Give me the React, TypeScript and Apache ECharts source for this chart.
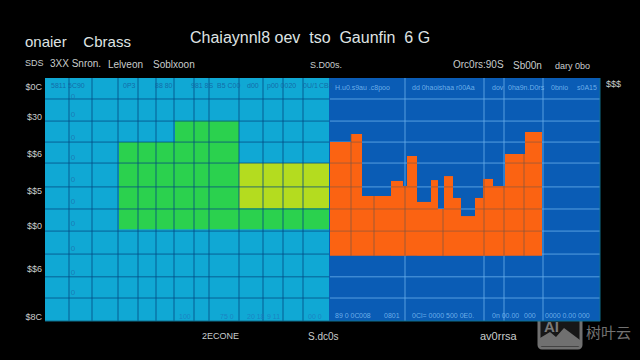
import React, { useEffect, useRef } from "react";
import * as echarts from "echarts";

const X_MAX = 555;
const Y_MAX = 11;
const SPLIT = 284;

const hLines = [1.04, 2.0, 3.03, 4.07, 5.07, 6.07, 7.15, 8.1, 9.05, 10.05];
const leftVLines = [24, 47, 73, 93, 111, 129, 149, 164, 194, 218, 238, 258];
const rightVLines = [360, 439, 459, 498];
const orangeVLines = [306, 329, 360, 398, 439, 459, 479];

const panels = [
  [0, SPLIT, 0, Y_MAX],
  [SPLIT, X_MAX, 0, Y_MAX],
];
const greenBlocks = [
  [74, 194, 4.15, 8.1],
  [130, 194, 8.1, 9.07],
  [194, 284, 4.15, 5.1],
];
const limeBlocks = [[194, 284, 5.1, 7.15]];

const orangeBase = 2.95;
const orangeEdges = [285, 306, 317, 346, 358, 362, 372, 386, 393, 399, 408, 416, 430, 438, 448, 460, 480, 497];
const orangeTops = [8.1, 8.47, 5.66, 6.34, 6.11, 7.47, 5.39, 6.38, 5.07, 6.56, 5.57, 4.75, 5.57, 6.43, 6.11, 7.56, 8.56];

const yTickLabels = ["$0C", "$30", "$$6", "$$5", "$$0", "$$6", "$8C"];
const yTickValues = [10.6, 9.25, 7.55, 5.9, 4.3, 2.35, 0.2];

const innerTop = [
  ["5811 5C90", 6], ["0P3", 78], ["88 80", 110], ["981 8S", 146], ["B5 C00", 172],
  ["d00", 202], ["p00 0020", 222], ["0U/1", 258], ["CB8", 274],
];
const innerTopRight = [
  ["H.u0.s9au .c8poo", 290], ["dd 0haoishaa r00Aa", 367], ["dov", 447], ["0ha9n.D0rs", 463], ["0bnio", 506], ["s0A15", 532],
];
const innerBottom = [
  ["100", 134], ["75 0", 175], ["20 18", 202], ["9 11", 222], ["00 0", 263],
];
const innerBottomRight = [
  ["89 0 0C", 290], ["008", 314], ["0801", 339], ["0Cl= 0000 500 0E0.", 367], ["0n 00.00", 447], ["000", 479], ["0000 0.00 000", 500],
];
const columnGlyphs = ["0", "0", "0", "0", "0", "0", "0", "0", "0", "0"];
const columnGlyphRows = [10.15, 9.35, 8.3, 7.4, 6.4, 5.4, 4.4, 3.3, 2.2, 1.3];

const rectSeries = (data: number[][], fill: string, z: number) => ({
  type: "custom",
  coordinateSystem: "cartesian2d",
  z,
  silent: true,
  data,
  encode: { x: [0, 1], y: [2, 3] },
  renderItem: (_: any, api: any) => {
    const a = api.coord([api.value(0), api.value(3)]);
    const b = api.coord([api.value(1), api.value(2)]);
    return {
      type: "rect",
      shape: { x: a[0], y: a[1], width: b[0] - a[0], height: b[1] - a[1] },
      style: { fill },
    };
  },
});

const lineSeries = (data: number[][], stroke: string, z: number) => ({
  type: "custom",
  coordinateSystem: "cartesian2d",
  z,
  silent: true,
  data,
  encode: { x: [0, 2], y: [1, 3] },
  renderItem: (_: any, api: any) => {
    const a = api.coord([api.value(0), api.value(1)]);
    const b = api.coord([api.value(2), api.value(3)]);
    return {
      type: "line",
      shape: { x1: a[0], y1: a[1], x2: b[0], y2: b[1] },
      style: { stroke, lineWidth: 1 },
    };
  },
});

const txt = (x: number, y: number, text: string, size: number, fill = "#c9cdcd", extra: any = {}) => ({
  type: "text",
  x,
  y,
  z: 50,
  style: { text, fill, font: `${size}px "Liberation Sans", sans-serif`, textVerticalAlign: "middle", ...extra },
});

export default function App() {
  const ref = useRef<HTMLDivElement>(null);
  useEffect(() => {
    const chart = echarts.init(ref.current!, null, { renderer: "svg" });
    const orangeRects = orangeTops.map((t, i) => [orangeEdges[i], orangeEdges[i + 1], orangeBase, t]);
    const topAt = (x: number) => {
      const i = orangeEdges.findIndex((e, k) => x >= e && x < orangeEdges[k + 1]);
      return i < 0 ? orangeBase : orangeTops[i];
    };
    const orangeH: number[][] = [];
    orangeRects.forEach((r) => {
      hLines.forEach((h) => {
        if (h > orangeBase + 0.2 && h < r[3]) orangeH.push([r[0], h, r[1], h]);
      });
    });
    const orangeV = orangeVLines.map((x) => [x, orangeBase, x, topAt(x)]);
    const leftH = hLines.map((h) => [0, h, SPLIT, h]);
    const leftV = leftVLines.map((x) => [x, 0, x, Y_MAX]);
    const rightH = hLines.map((h) => [SPLIT + 1, h, X_MAX, h]);
    const rightV = rightVLines.map((x) => [x, 0, x, Y_MAX]);
    const frame = [
      [0, 0, X_MAX, 0],
      [X_MAX, 0, X_MAX, Y_MAX],
    ];

    const chartOption: any = {
      animation: false,
      backgroundColor: "#000000",
      grid: { left: 45, top: 78, width: X_MAX, height: 243 },
      xAxis: { type: "value", min: 0, max: X_MAX, show: false },
      yAxis: { type: "value", min: 0, max: Y_MAX, show: false },
      series: [
        rectSeries([panels[0]], "#10a8d4", 1),
        rectSeries([panels[1]], "#0a5cb5", 1),
        rectSeries(greenBlocks, "#2bd14e", 2),
        rectSeries(limeBlocks, "#b4dc1f", 2),
        lineSeries(leftH, "rgba(4,72,130,0.75)", 3),
        lineSeries(leftV, "rgba(4,72,130,0.8)", 3),
        lineSeries(rightH, "rgba(105,175,235,0.8)", 3),
        lineSeries(rightV, "rgba(105,175,235,0.8)", 3),
        lineSeries(frame, "#0f6f8c", 3),
        rectSeries(orangeRects, "#fb6312", 4),
        lineSeries(orangeH, "rgba(120,85,70,0.6)", 5),
        lineSeries(orangeV, "rgba(120,85,70,0.7)", 5),
        {
          type: "custom",
          coordinateSystem: "cartesian2d",
          z: 6,
          silent: true,
          data: yTickValues.map((v, i) => [0, v, i]),
          encode: { x: 0, y: 1 },
          renderItem: (_: any, api: any) => {
            const p = api.coord([api.value(0), api.value(1)]);
            return {
              type: "text",
              x: p[0] - 3,
              y: p[1],
              style: {
                text: yTickLabels[api.value(2)],
                fill: "#c9cdcd",
                font: '9px "Liberation Sans", sans-serif',
                textAlign: "right",
                textVerticalAlign: "middle",
              },
            };
          },
        },
        {
          type: "custom",
          coordinateSystem: "cartesian2d",
          z: 6,
          silent: true,
          data: columnGlyphRows.map((v, i) => [28, v, i]),
          encode: { x: 0, y: 1 },
          renderItem: (_: any, api: any) => {
            const p = api.coord([api.value(0), api.value(1)]);
            return {
              type: "text",
              x: p[0],
              y: p[1],
              style: {
                text: columnGlyphs[api.value(2)],
                fill: "rgba(30,110,170,0.75)",
                font: '8px "Liberation Sans", sans-serif',
                textAlign: "center",
                textVerticalAlign: "middle",
              },
            };
          },
        },
      ],
      graphic: [
        txt(25, 41, "onaier    Cbrass", 15, "#dfe3e3"),
        txt(190, 37, "Chaiaynnl8 oev  tso  Gaunfin  6 G", 16, "#dfe3e3"),
        txt(25, 63, "SDS", 9),
        txt(50, 63, "3XX Snron.", 10),
        txt(108, 64, "Lelveon", 10),
        txt(153, 64, "Soblxoon", 10),
        txt(310, 65, "S.D00s.", 9),
        txt(453, 64, "Orc0rs:90S", 10),
        txt(513, 65, "Sb00n", 10),
        txt(555, 66, "dary 0bo", 9),
        txt(606, 84, "$$$", 9),
        txt(202, 336, "2ECONE", 9),
        txt(308, 336, "S.dc0s", 10),
        txt(480, 336, "av0rrsa", 11),
        ...innerTop.map(([t, x]) => txt(45 + (x as number), 85, t as string, 7, "rgba(20,95,160,0.85)")),
        ...innerTopRight.map(([t, x]) => txt(45 + (x as number), 87, t as string, 7, "rgba(120,185,240,0.9)")),
        ...innerBottom.map(([t, x]) => txt(45 + (x as number), 316, t as string, 7, "rgba(30,120,190,0.8)")),
        ...innerBottomRight.map(([t, x]) => txt(45 + (x as number), 315, t as string, 7, "rgba(120,185,240,0.9)")),
        {
          type: "group",
          z: 60,
          children: [
            { type: "rect", shape: { x: 539, y: 315, width: 42, height: 33, r: 3 }, style: { fill: "rgba(25,25,25,0.9)", stroke: "#707070", lineWidth: 3 } },
            { type: "polygon", shape: { points: [[540, 346], [540, 338], [550, 332], [556, 337], [564, 328], [580, 340], [580, 346]] }, style: { fill: "#707070" } },
            { type: "text", x: 544, y: 326, style: { text: "AI", fill: "#7a7a7a", font: 'bold 15px "Liberation Sans", sans-serif', textVerticalAlign: "middle" } },
            { type: "text", x: 586, y: 331, style: { text: "树叶云", fill: "#727272", font: '15px "Noto Sans CJK SC", sans-serif', textVerticalAlign: "middle" } },
          ],
        },
      ],
    };
    chart.setOption(chartOption);
    return () => chart.dispose();
  }, []);
  return <div ref={ref} style={{ position: "fixed", left: 0, top: 0, width: 640, height: 360, background: "#000" }} />;
}
